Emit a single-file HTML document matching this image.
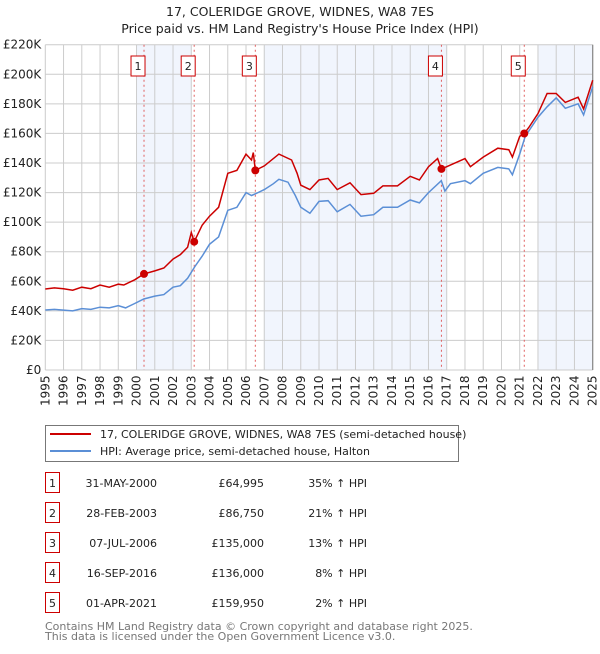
<!DOCTYPE html>
<html><head><meta charset="utf-8"><style>
body{margin:0;background:#fff;font-family:"DejaVu Sans","Liberation Sans",sans-serif;}
svg text{font-family:"DejaVu Sans","Liberation Sans",sans-serif;}
</style></head><body>
<svg id="c" width="600" height="650" xmlns="http://www.w3.org/2000/svg"></svg>
<script>
const yTicks=[0,20000,40000,60000,80000,100000,120000,140000,160000,180000,200000,220000];
const yTickLabels=["£0","£20K","£40K","£60K","£80K","£100K","£120K","£140K","£160K","£180K","£200K","£220K"];
const years=[1995,1996,1997,1998,1999,2000,2001,2002,2003,2004,2005,2006,2007,2008,2009,2010,2011,2012,2013,2014,2015,2016,2017,2018,2019,2020,2021,2022,2023,2024,2025];
const bands=[[2000,2003],[2007,2017],[2022,2025]];
const hpiT=[1995,1995.5,1996,1996.5,1997,1997.5,1998,1998.5,1999,1999.4,1999.9,2000.4,2001,2001.5,2002,2002.4,2002.8,2003.2,2003.6,2004,2004.5,2005,2005.5,2006,2006.3,2006.5,2007,2007.5,2007.8,2008.3,2008.7,2009,2009.5,2010,2010.5,2011,2011.7,2012.3,2013,2013.5,2014.3,2015,2015.5,2016,2016.7,2016.9,2017.2,2018,2018.3,2019,2019.8,2020.4,2020.6,2021,2021.3,2022,2022.5,2023,2023.5,2024.2,2024.5,2025];
const hpiV=[40600,41000,40500,40000,41500,41000,42500,42000,43500,42000,45000,48000,50000,51000,56000,57000,62000,70000,77000,85000,90000,108000,110000,120000,118000,119000,122000,126000,129000,127000,118000,110000,106000,114000,114500,107000,112000,104000,105000,110000,110000,115000,113000,120000,128000,121000,126000,128000,126000,133000,137000,136000,132000,146000,158000,171000,178000,184000,177000,180000,172500,191600];
const redT=[1995,1995.5,1996,1996.5,1997,1997.5,1998,1998.5,1999,1999.3,1999.9,2000.41,2001,2001.5,2002,2002.4,2002.8,2003.0,2003.16,2003.6,2004,2004.5,2005,2005.5,2006,2006.3,2006.4,2006.51,2007,2007.8,2008.5,2008.8,2009,2009.5,2010,2010.5,2011,2011.7,2012.3,2013,2013.5,2014.3,2015,2015.5,2016,2016.5,2016.71,2017,2018,2018.3,2019,2019.8,2020.4,2020.6,2021,2021.25,2021.5,2022,2022.5,2023,2023.5,2024.2,2024.5,2025];
const redV=[54800,55500,55000,54000,56000,55000,57500,56000,58000,57500,61000,64995,67000,69000,75000,78000,83000,93000,86750,98000,104000,110000,133000,135000,146000,142000,147000,135000,138000,146000,142000,133000,125000,122000,128500,129600,122000,126600,118600,119500,124500,124500,131000,128500,137500,143000,136000,137500,143000,137500,144000,150000,149000,144000,158000,159950,164000,173500,187000,187000,181000,184500,176600,196000];
const saleT=[2000.41,2003.16,2006.51,2016.71,2021.25];
const saleV=[64995,86750,135000,136000,159950];
const saleLabels=["1","2","3","4","5"];
const rowDates=["31-MAY-2000","28-FEB-2003","07-JUL-2006","16-SEP-2016","01-APR-2021"];
const rowPrices=["£64,995","£86,750","£135,000","£136,000","£159,950"];
const rowHpi=["35% ↑ HPI","21% ↑ HPI","13% ↑ HPI","8% ↑ HPI","2% ↑ HPI"];

const svg=document.getElementById('c');const NS="http://www.w3.org/2000/svg";
const L=45.3,R=592.7,T=44.7,B=370;
const x=t=>L+(t-1995)/30*(R-L);
const y=v=>B-v/220000*(B-T);
function el(tag,attrs,parent){const e=document.createElementNS(NS,tag);for(const k in attrs)e.setAttribute(k,attrs[k]);(parent||svg).appendChild(e);return e;}
function txt(s,attrs,name){const e=el('text',attrs);e.textContent=s;return e;}
let e;
e=txt("17, COLERIDGE GROVE, WIDNES, WA8 7ES",{x:300,y:16,'text-anchor':'middle','font-size':12.5,fill:'#222'},'chart-title');
e=txt("Price paid vs. HM Land Registry's House Price Index (HPI)",{x:300,y:33,'text-anchor':'middle','font-size':12.5,fill:'#222'},'chart-subtitle');
bands.forEach(b=>{e=el('rect',{x:x(b[0]),y:T,width:x(b[1])-x(b[0]),height:B-T,fill:'#eef3fc',opacity:0.8});
});
years.forEach(yr=>{e=el('line',{x1:x(yr),x2:x(yr),y1:T,y2:B,stroke:'#ccc','stroke-width':1});

e=txt(String(yr),{transform:`translate(${x(yr)+4},${B+36}) rotate(-90)`,'font-size':12,fill:'#222'},'x-tick-label');});
yTicks.forEach((v,i)=>{e=el('line',{x1:L,x2:R,y1:y(v),y2:y(v),stroke:'#ccc','stroke-width':1});

e=txt(yTickLabels[i],{x:L-4,y:y(v)+4,'text-anchor':'end','font-size':12,fill:'#222'},'y-tick-label');});
e=el('line',{x1:R,x2:R,y1:T,y2:B,stroke:'#888','stroke-width':1.2});
saleT.forEach((t,i)=>{e=el('line',{x1:x(t),x2:x(t),y1:T,y2:B,stroke:'#e06060','stroke-width':1,'stroke-dasharray':'2,3'});

e=el('rect',{x:x(t)-13,y:56,width:14,height:20,fill:'#fff',stroke:'#c00','stroke-width':1});

e=txt(saleLabels[i],{x:x(t)-6,y:70,'text-anchor':'middle','font-size':11,fill:'#222'},'sale-marker-label');});
const pts=(T_,V_)=>T_.map((t,i)=>x(t).toFixed(1)+','+y(V_[i]).toFixed(1)).join(' ');
e=el('polyline',{points:pts(hpiT,hpiV),fill:'none',stroke:'#5b8fd6','stroke-width':1.5});

e=el('polyline',{points:pts(redT,redV),fill:'none',stroke:'#cc0000','stroke-width':1.5});

saleT.forEach((t,i)=>{e=el('circle',{cx:x(t),cy:y(saleV[i]),r:4,fill:'#cc0000'});
});
// legend
e=el('rect',{x:45.5,y:425.5,width:413,height:36,fill:'#fff',stroke:'#777','stroke-width':1});

e=el('line',{x1:50,x2:91,y1:434,y2:434,stroke:'#cc0000','stroke-width':2});
e=el('line',{x1:50,x2:91,y1:451,y2:451,stroke:'#5b8fd6','stroke-width':2});
e=txt("17, COLERIDGE GROVE, WIDNES, WA8 7ES (semi-detached house)",{x:100,y:438,'font-size':11,fill:'#222'},'legend-entry-price');
e=txt("HPI: Average price, semi-detached house, Halton",{x:100,y:455,'font-size':11,fill:'#222'},'legend-entry-hpi');
// table
saleLabels.forEach((s,i)=>{const cy=483+i*30;
e=el('rect',{x:45.5,y:cy-10.5,width:14,height:20,fill:'#fff',stroke:'#c00','stroke-width':1});

e=txt(s,{x:52.5,y:cy+4,'text-anchor':'middle','font-size':11,fill:'#222'},'table-row-number');
e=txt(rowDates[i],{x:157,y:cy+4,'text-anchor':'end','font-size':11,fill:'#222'},'table-row-date');
e=txt(rowPrices[i],{x:264,y:cy+4,'text-anchor':'end','font-size':11,fill:'#222'},'table-row-price');
e=txt(rowHpi[i],{x:367,y:cy+4,'text-anchor':'end','font-size':11,fill:'#222'},'table-row-hpi');});
e=txt("Contains HM Land Registry data © Crown copyright and database right 2025.",{x:45,y:630,'font-size':11,fill:'#777'},'footer-line-1');
e=txt("This data is licensed under the Open Government Licence v3.0.",{x:45,y:640,'font-size':11,fill:'#777'},'footer-line-2');
</script>
</body></html>
